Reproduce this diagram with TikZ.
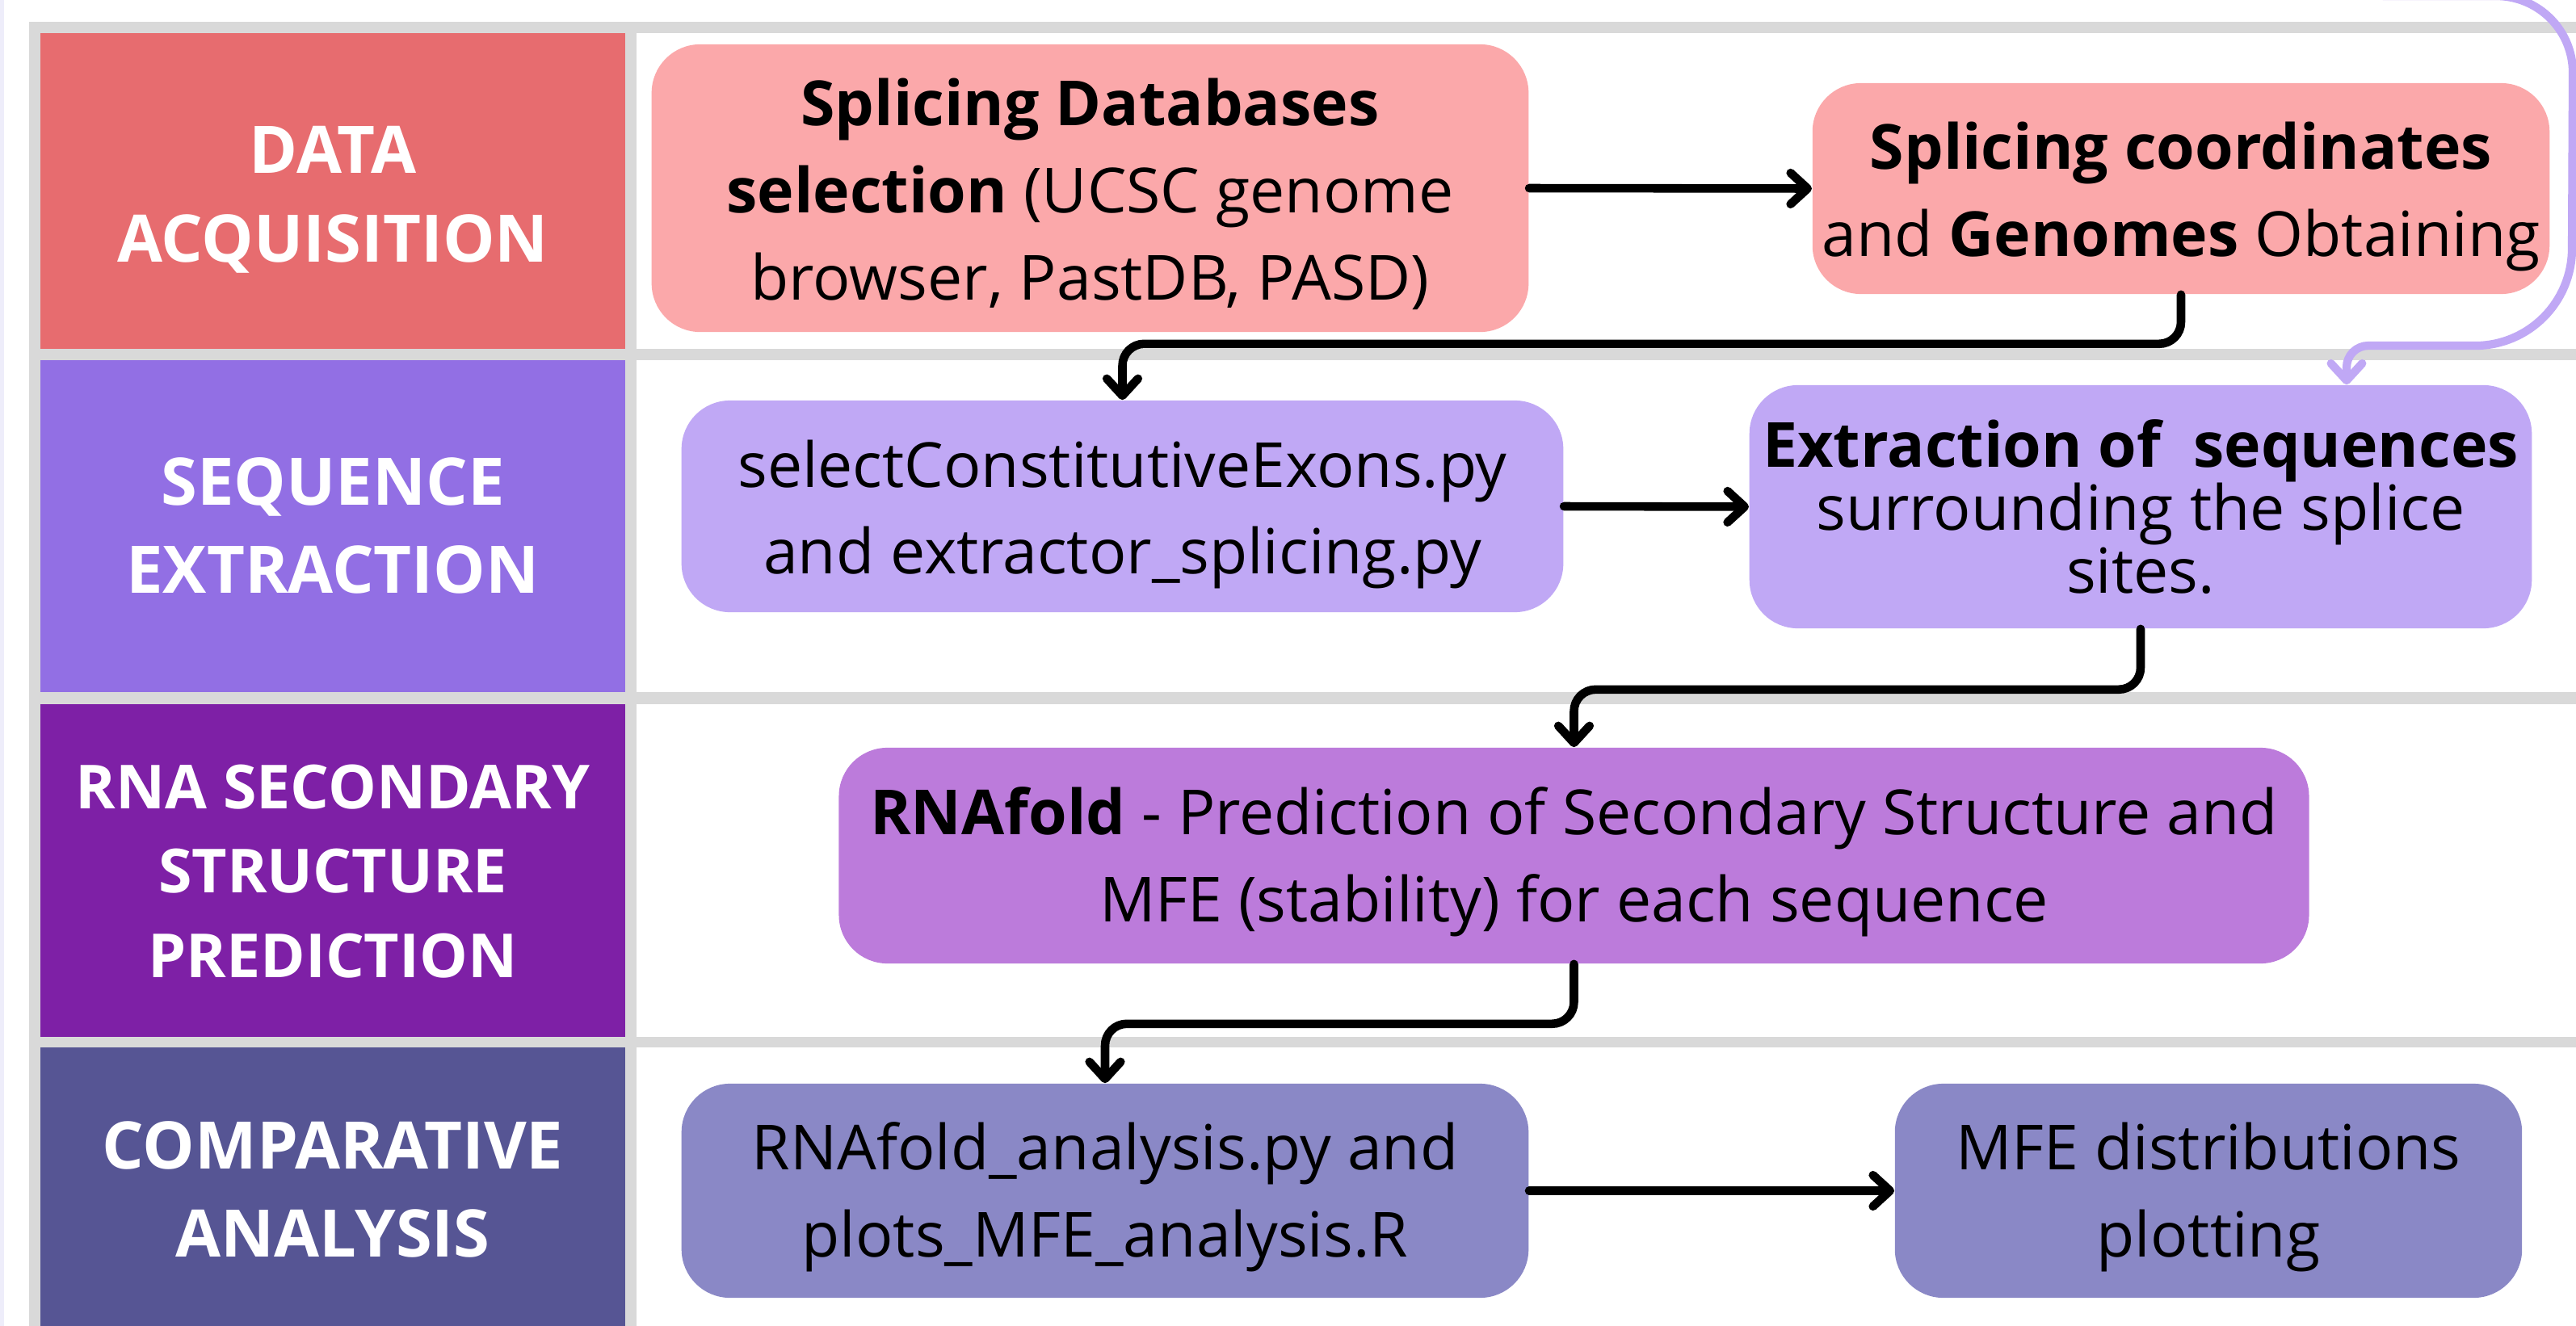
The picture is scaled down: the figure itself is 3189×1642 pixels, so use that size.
\documentclass[tikz,border=0pt]{standalone}
\usepackage{fontspec}
\setmainfont{Open Sans}
\usetikzlibrary{arrows.meta,calc}

\definecolor{gridgray}{HTML}{D9D9D9}
\definecolor{edgelav}{HTML}{EEEDFA}
\definecolor{acqdark}{HTML}{E76C6F}
\definecolor{acqlight}{HTML}{FBA8AA}
\definecolor{seqdark}{HTML}{926FE4}
\definecolor{seqlight}{HTML}{C0A8F5}
\definecolor{rnadark}{HTML}{7E20A6}
\definecolor{rnalight}{HTML}{BC7BDB}
\definecolor{cmpdark}{HTML}{565594}
\definecolor{cmplight}{HTML}{8A88C6}

\tikzset{
  stepbox/.style={rounded corners=0.6cm, inner sep=0pt},
  steptext/.style={inner sep=0pt, align=center,
    font=\fontsize{21.9pt}{30.7pt}\selectfont},
  phase/.style={inner sep=0pt, align=center, text=white,
    font=\fontsize{23.1pt}{31.2pt}\selectfont\bfseries},
  flow/.style={line width=3pt, line cap=round, line join=round,
    -{Straight Barb[length=6pt,width=11pt,round]}},
  loopflow/.style={flow, draw=seqlight, line width=2.9pt}
}

\begin{document}
\begin{tikzpicture}[x=0.01cm,y=-0.01cm]
\useasboundingbox (0,0) rectangle (3189,1642);
\clip (0,0) rectangle (3189,1642);
\fill[white] (0,0) rectangle (3189,1642);
\fill[edgelav] (0,0) rectangle (5,1642);

% table frame and rows
\fill[gridgray] (36,27) rectangle (3189,1642);
\foreach \t/\b/\c in {41/432/acqdark, 446/857/seqdark, 872/1284/rnadark, 1297/1660/cmpdark} {
  \fill[\c] (50,\t) rectangle (774,\b);
  \fill[white] (788,\t) rectangle (3189,\b);
}

% phase labels
\node[phase] (phacq) at (412,247) {DATA\\ACQUISITION};
\node[phase] (phseq) at (412,651) {SEQUENCE\\EXTRACTION};
\node[phase, font=\fontsize{21.4pt}{29.6pt}\selectfont\bfseries] (phrna) at (412,1079) {RNA SECONDARY\\STRUCTURE\\PREDICTION};
\node[phase] (phcmp) at (412,1473) {COMPARATIVE\\ANALYSIS};

% process steps
\node[stepbox, fill=acqlight, minimum width=10.85cm, minimum height=3.56cm] (dbsel) at (1349.5,233) {};
\node[steptext] (dbseltxt) at ($(dbsel.center)+(0,7)$)
  {\textbf{Splicing Databases}\\\textbf{selection} (UCSC genome\\browser, PastDB, PASD)};
\node[stepbox, fill=acqlight, minimum width=9.12cm, minimum height=2.61cm] (coords) at (2700,233.5) {};
\node[steptext] (coordstxt) at ($(coords.center)+(0,10)$)
  {\textbf{Splicing coordinates}\\and \textbf{Genomes} Obtaining};
\node[stepbox, fill=seqlight, minimum width=10.91cm, minimum height=2.62cm] (scripts) at (1389.5,627) {};
\node[steptext] (scriptstxt) at ($(scripts.center)+(0,10)$)
  {selectConstitutiveExons.py\\and extractor\_splicing.py};
\node[stepbox, fill=seqlight, minimum width=9.68cm, minimum height=3.01cm] (extract) at (2650,627.5) {};
\node[steptext, font=\fontsize{21.9pt}{22.2pt}\selectfont] (extracttxt) at (extract.center)
  {\textbf{Extraction of\ \ sequences}\\surrounding the splice\\sites.};
\node[stepbox, fill=rnalight, minimum width=18.19cm, minimum height=2.67cm] (rnafold) at (1948.5,1059.5) {};
\node[steptext] (rnafoldtxt) at ($(rnafold.center)+(0,8)$)
  {\textbf{RNAfold} - Prediction of Secondary Structure and\\MFE (stability) for each sequence};
\node[stepbox, fill=cmplight, minimum width=10.48cm, minimum height=2.65cm] (analysis) at (1368,1474.5) {};
\node[steptext] (analysistxt) at ($(analysis.center)+(0,8)$)
  {RNAfold\_analysis.py and\\plots\_MFE\_analysis.R};
\node[stepbox, fill=cmplight, minimum width=7.76cm, minimum height=2.65cm] (mfeplot) at (2734,1474.5) {};
\node[steptext] (mfeplottxt) at ($(mfeplot.center)+(0,8)$)
  {MFE distributions\\plotting};

% connectors
\draw[flow] (dbsel.east) -- (coords.west);
\draw[flow, rounded corners=0.27cm] (coords.south) -- ++(0,61) -| (scripts.north);
\draw[flow] (scripts.east) -- (extract.west);
\draw[flow, rounded corners=0.27cm] (extract.south) -- ++(0,75) -| (rnafold.north);
\draw[flow, rounded corners=0.27cm] (rnafold.south) -- ++(0,74) -| (analysis.north);
\draw[flow] (analysis.east) -- (mfeplot.west);

% loop arriving from above the frame
\coordinate (loopin) at (2950,-5);
\coordinate (loopdrop) at (2905,0);
\draw[loopflow] (loopin) -- (3090,-5) arc[start angle=90, end angle=0, radius=0.95cm]
  -- (3184,308) arc[start angle=0, end angle=-90, radius=1.2cm]
  -- (2932,428) arc[start angle=90, end angle=180, radius=0.27cm]
  -- (loopdrop |- extract.north);
\end{tikzpicture}
\end{document}
